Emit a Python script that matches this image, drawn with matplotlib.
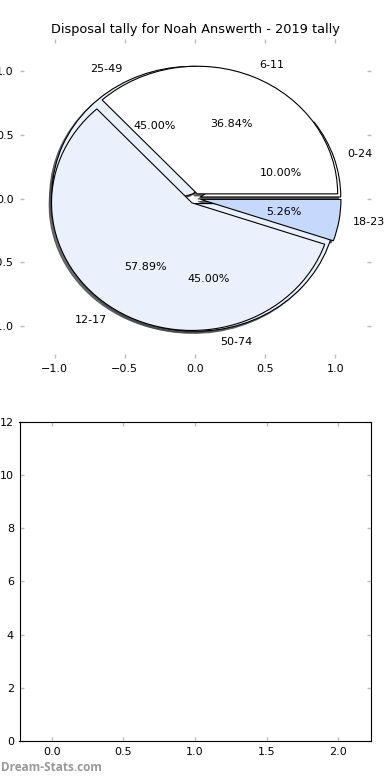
import numpy as np
import matplotlib
matplotlib.use('Agg')
import matplotlib.pyplot as plt

# Pie data: two pies drawn on the same axes
labels_a = ['0-24', '25-49', '50-74']
values_a = [2, 9, 9]
labels_b = ['6-11', '12-17', '18-23']
values_b = [7, 11, 1]

colors_a = ['#ffffff', '#eaf1fd', '#eaf1fd']
colors_b = ['#ffffff', '#eaf1fd', '#c6d9fc']

title = 'Disposal tally for Noah Answerth - 2019 tally'

fig, (ax1, ax2) = plt.subplots(2, 1, figsize=(3.9, 7.8), dpi=100)
fig.subplots_adjust(left=0.05, right=0.95, bottom=0.05, top=0.95, hspace=0.2)

wp = dict(edgecolor='black', linewidth=0.8)
shadow = dict(ox=-0.012, oy=-0.012, shade=0.7, alpha=0.8)
ax1.pie(values_a, labels=labels_a, colors=colors_a, explode=[0.04] * 3,
        autopct='%.2f%%', shadow=shadow, wedgeprops=wp,
        textprops=dict(fontsize=8))
ax1.pie(values_b, labels=labels_b, colors=colors_b, explode=[0.04] * 3,
        autopct='%.2f%%', shadow=shadow, wedgeprops=wp,
        textprops=dict(fontsize=8))
ax1.set_aspect('auto')
ax1.set_xlim(-1.25, 1.25)
ax1.set_ylim(-1.25, 1.25)
ax1.set_xticks([-1.0, -0.5, 0.0, 0.5, 1.0])
ax1.set_yticks([-1.0, -0.5, 0.0, 0.5, 1.0])
ax1.set_title(title, fontsize=9.3, pad=4)

ax2.set_xlim(-0.225, 2.225)
ax2.set_ylim(0, 12)
ax2.set_xticks([0.0, 0.5, 1.0, 1.5, 2.0])
ax2.set_yticks(range(0, 13, 2))

for ax in (ax1, ax2):
    ax.tick_params(direction='in', length=3, width=1, color='#bbbbbb',
                   labelsize=8, top=True, right=True, pad=4)

fig.text(0.003, 0.012, 'Dream-Stats.com', color='#999999', fontsize=8.5,
         fontweight='bold', family='Open Sans')

plt.savefig('out.png')
